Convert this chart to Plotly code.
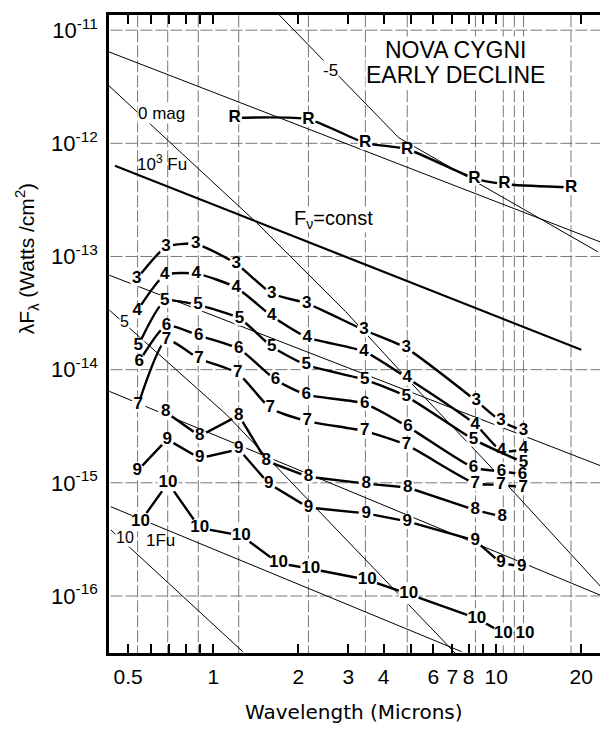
import plotly.graph_objects as go

# ---------------- data (wavelength in microns, lambda*F_lambda in W/cm^2) ----------------
grid_wl = [0.54, 0.69, 0.885, 1.23, 2.17, 3.45, 4.85, 8.45, 10.6, 11.6, 12.5, 18.4]
grid_decades = [1e-16, 1e-15, 1e-14, 1e-13, 1e-12, 1e-11]

x_tickvals = [0.5, 0.6, 0.7, 0.8, 0.9, 1, 2, 3, 4, 5, 6, 7, 8, 9, 10, 20]
x_ticktext = ["0.5", "", "", "", "", "1", "2", "3", "4", "", "6", "7", "8", "", "10", "20"]
y_tickvals = [1e-16, 1e-15, 1e-14, 1e-13, 1e-12, 1e-11]
y_ticktext = ["10<sup>-16</sup>", "10<sup>-15</sup>", "10<sup>-14</sup>",
              "10<sup>-13</sup>", "10<sup>-12</sup>", "10<sup>-11</sup>"]

# constant F_nu lines (10^4, 10^3, 10^2, 10, 1 Fu)
fu4_x = [0.4234, 23.43]; fu4_y = [6.49e-12, 1.34e-13]
fu3_x = [0.449, 20.0];   fu3_y = [6.33e-13, 1.50e-14]
fu2_x = [0.429, 23.5];   fu2_y = [6.83e-14, 1.41e-15]
fu1_x = [0.429, 23.5];   fu1_y = [6.43e-15, 1.01e-16]
fu0_x = [0.434, 7.55];   fu0_y = [6.15e-16, 3.22e-17]

# constant magnitude lines (-5, 0, 5, 10 mag)
magm5_x = [1.712, 4.53, 22.9];  magm5_y = [1.36e-11, 1.12e-12, 1.10e-13]
mag0_x = [0.4234, 1.417, 2.94, 5.47, 9.15, 23.5]
mag0_y = [3.30e-12, 2.01e-13, 3.25e-14, 6.01e-15, 1.56e-15, 1.20e-16]
mag5_x = [0.429, 1.111, 7.17];  mag5_y = [3.36e-14, 4.02e-15, 3.12e-17]
mag10_x = [0.434, 1.271];       mag10_y = [3.84e-16, 3.22e-17]

# observed energy distributions
R_x = [1.19, 2.17, 3.44, 4.85, 8.37, 10.7, 18.4]
R_y = [1.68e-12, 1.63e-12, 1.01e-12, 8.86e-13, 4.9e-13, 4.36e-13, 4.08e-13]

s3_x = [0.536, 0.68, 0.866, 1.205, 1.61, 2.14, 3.41, 4.81, 8.5, 10.4, 12.5]
s3_y = [6.3e-14, 1.21e-13, 1.29e-13, 8.63e-14, 4.71e-14, 3.85e-14, 2.24e-14, 1.55e-14, 5.3e-15, 3.51e-15, 2.86e-15]

s4_x = [0.538, 0.674, 0.871, 1.205, 1.61, 2.15, 3.41, 4.85, 8.44, 10.45, 12.5]
s4_y = [3.3e-14, 6.83e-14, 7.05e-14, 5.31e-14, 2.98e-14, 1.93e-14, 1.45e-14, 8.42e-15, 3.28e-15, 1.91e-15, 1.98e-15]

s5_x = [0.543, 0.674, 0.883, 1.238, 1.61, 2.13, 3.43, 4.81, 8.32, 12.5]
s5_y = [1.63e-14, 4.04e-14, 3.72e-14, 2.84e-14, 1.6e-14, 1.1e-14, 8.15e-15, 5.81e-15, 2.42e-15, 1.51e-15]

s6_x = [0.547, 0.683, 0.888, 1.231, 1.66, 2.13, 3.43, 4.88, 8.32, 10.45, 12.4]
s6_y = [1.18e-14, 2.45e-14, 2.0e-14, 1.53e-14, 8.15e-15, 6.01e-15, 5.01e-15, 3.12e-15, 1.36e-15, 1.26e-15, 1.19e-15]

s7_x = [0.543, 0.683, 0.89, 1.221, 1.59, 2.15, 3.43, 4.82, 8.44, 10.41, 12.48]
s7_y = [4.91e-15, 1.83e-14, 1.25e-14, 9.3e-15, 4.59e-15, 3.51e-15, 2.86e-15, 2.16e-15, 9.86e-16, 9.6e-16, 9.08e-16]

s8_x = [0.679, 0.895, 1.231, 1.54, 2.17, 3.47, 4.87, 8.44, 10.52]
s8_y = [4.23e-15, 2.59e-15, 3.94e-15, 1.56e-15, 1.13e-15, 9.84e-16, 9.08e-16, 5.74e-16, 5.02e-16]

s9_x = [0.538, 0.687, 0.895, 1.231, 1.57, 2.17, 3.47, 4.85, 8.44, 10.41, 12.31]
s9_y = [1.27e-15, 2.42e-15, 1.65e-15, 1.98e-15, 9.84e-16, 6.05e-16, 5.37e-16, 4.56e-16, 3.09e-16, 1.95e-16, 1.82e-16]

s10_x = [0.553, 0.692, 0.895, 1.255, 1.70, 2.21, 3.50, 4.91, 8.55, 10.6, 12.65]
s10_y = [4.56e-16, 1.0e-15, 3.99e-16, 3.42e-16, 1.95e-16, 1.74e-16, 1.39e-16, 1.04e-16, 6.33e-17, 4.68e-17, 4.68e-17]

series = [
    ("R", R_x, R_y, True),
    ("3", s3_x, s3_y, True),
    ("4", s4_x, s4_y, True),
    ("5", s5_x, s5_y, True),
    ("6", s6_x, s6_y, True),
    ("7", s7_x, s7_y, True),
    ("8", s8_x, s8_y, False),
    ("9", s9_x, s9_y, False),
    ("10", s10_x, s10_y, False),
]

FONT = "Liberation Sans"

# ---------------- figure ----------------
# page has an 8px body margin: plot area wanted at page x 109..603, y 12..653
OFF = 8
L, R, T, B = 109 - OFF, 603 - OFF, 12 - OFF, 653 - OFF
W, H = 600, 723

fig = go.Figure()

# grid lines
gx, gy = [], []
for v in grid_wl:
    gx += [v, v, None]
    gy += [1e-18, 1e-10, None]
for d in grid_decades:
    gx += [0.3, 40, None]
    gy += [d, d, None]
fig.add_trace(go.Scatter(x=gx, y=gy, mode="lines", hoverinfo="skip",
                         line=dict(color="#6a6a6a", width=0.9, dash="12px,3px")))

# reference lines
for xs, ys, w in [(fu4_x, fu4_y, 1), (fu3_x, fu3_y, 2.2), (fu2_x, fu2_y, 1),
                  (fu1_x, fu1_y, 1), (fu0_x, fu0_y, 1),
                  (magm5_x, magm5_y, 1), (mag0_x, mag0_y, 1),
                  (mag5_x, mag5_y, 1), (mag10_x, mag10_y, 1)]:
    fig.add_trace(go.Scatter(x=xs, y=ys, mode="lines", hoverinfo="skip",
                             line=dict(color="black", width=w)))

# data series drawn with their epoch number as the plotting symbol
for lab, xs, ys, smooth in series:
    size = 21 if len(lab) > 1 else 15
    fig.add_trace(go.Scatter(
        x=xs, y=ys, mode="lines+markers+text",
        text=[lab] * len(xs), textposition="middle center",
        textfont=dict(family=FONT, size=17, color="black", weight="bold"),
        marker=dict(size=size, color="white", line=dict(width=0)),
        line=dict(color="black", width=2.4,
                  shape="spline" if smooth else "linear", smoothing=0.6),
        hoverinfo="skip"))


def px(x):
    return (x - OFF - L) / (R - L)


def py(y):
    return (B - (y - OFF)) / (B - T)


annos = [
    ("NOVA CYGNI", 457, 47, 23, True),
    ("EARLY DECLINE", 457, 72, 23, True),
    ("-5", 331, 68, 17, True),
    ("0 mag", 162, 111, 17, True),
    ("10<sup>3</sup> Fu", 162, 161, 17, False),
    ("F<sub>ν</sub>=const", 334, 217, 20, True),
    ("5", 125, 320, 16, True),
    ("10", 125, 537, 16, True),
    ("1Fu", 161, 540, 17, False),
]
for text, x, y, size, bg in annos:
    fig.add_annotation(x=px(x), y=py(y), xref="paper", yref="paper", text=text,
                       showarrow=False, xanchor="center", yanchor="middle",
                       font=dict(family=FONT, size=size, color="black"),
                       bgcolor="white" if bg else None, borderpad=0)

fig.add_annotation(x=px(27), y=py(257), xref="paper", yref="paper",
                   xanchor="center", yanchor="middle",
                   text="λF<sub>λ</sub> (Watts /cm<sup>2</sup>)", textangle=-90,
                   showarrow=False, font=dict(family=FONT, size=21, color="black"))
fig.add_annotation(x=px(355), y=py(712), xref="paper", yref="paper",
                   xanchor="center", yanchor="middle",
                   text="Wavelength (Microns)", showarrow=False,
                   font=dict(family="DejaVu Sans", size=20, color="black"))

fig.update_layout(
    width=W, height=H, margin=dict(l=L, r=W - R, t=T, b=H - B, pad=0),
    plot_bgcolor="white", paper_bgcolor="white", showlegend=False,
    xaxis=dict(type="log", range=[-0.3687, 1.3708], tickvals=x_tickvals, ticktext=x_ticktext,
               tickangle=0,
               ticks="inside", ticklen=9, tickwidth=1.5, tickcolor="black",
               showline=True, linewidth=2.5, linecolor="black", mirror="ticks",
               showgrid=False, zeroline=False, ticklabelstandoff=3,
               tickfont=dict(family=FONT, size=21, color="black")),
    yaxis=dict(type="log", range=[-16.504, -10.866], tickvals=y_tickvals, ticktext=y_ticktext,
               ticks="", showline=True, linewidth=2.5, linecolor="black", mirror=True,
               showgrid=False, zeroline=False, ticklabelstandoff=4,
               tickfont=dict(family=FONT, size=22, color="black")),
)

fig.write_html("out.html")
